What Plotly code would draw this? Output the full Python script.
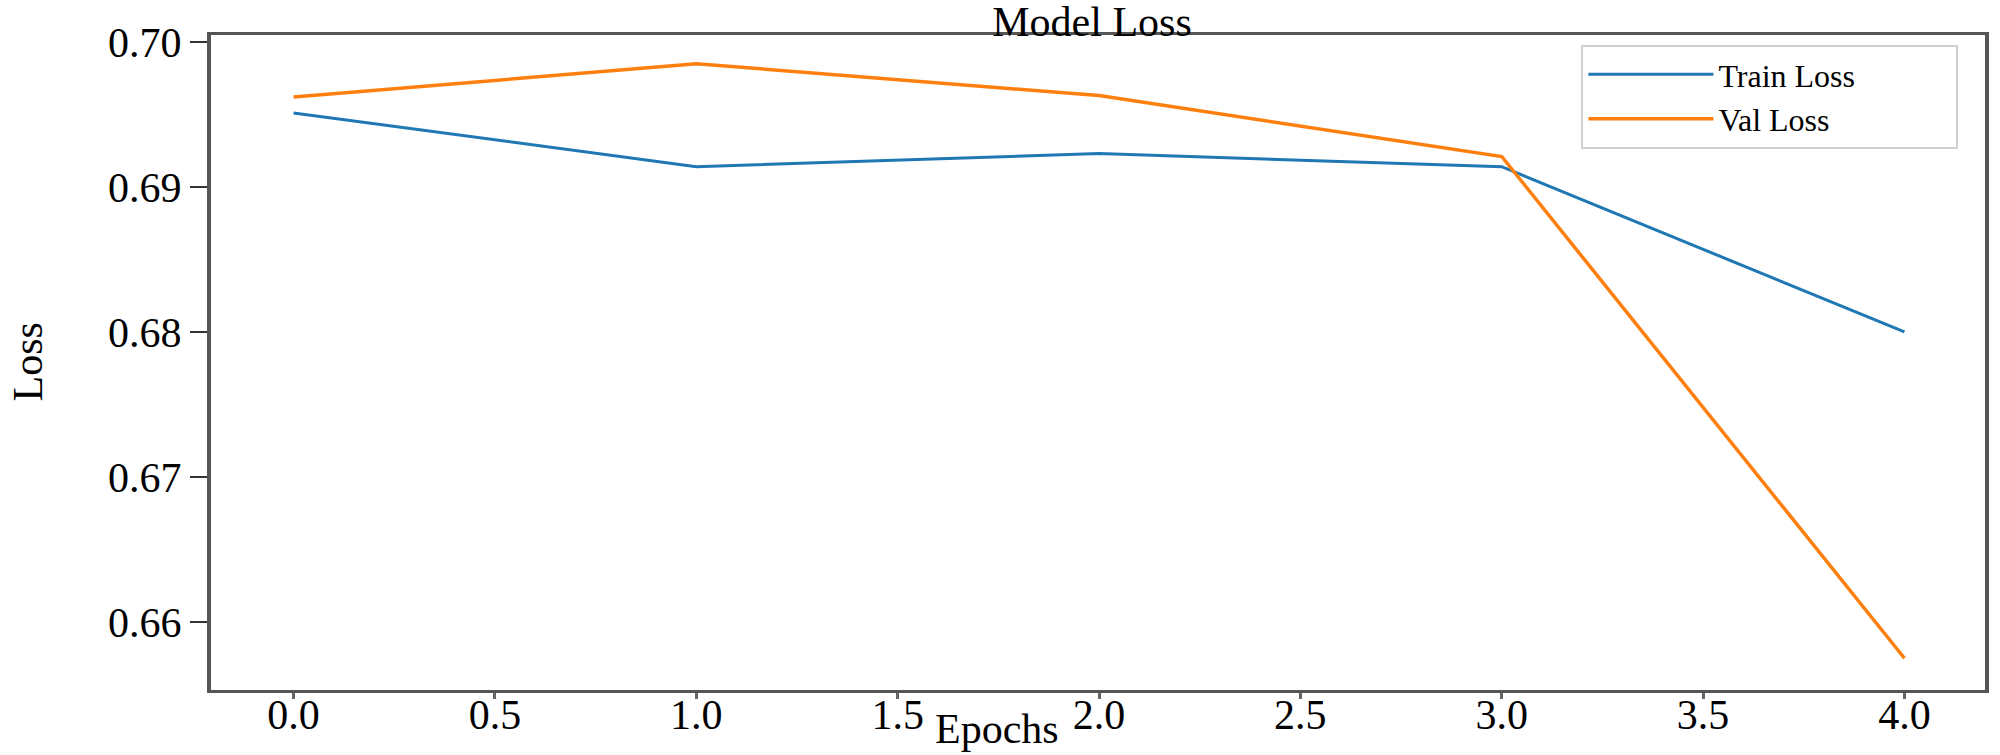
import plotly.graph_objects as go

epochs = [0, 1, 2, 3, 4]
train_loss = [0.6951, 0.6914, 0.6923, 0.6914, 0.6800]
val_loss = [0.6962, 0.6985, 0.6963, 0.6921, 0.6575]

x_ticks = [0.0, 0.5, 1.0, 1.5, 2.0, 2.5, 3.0, 3.5, 4.0]
y_ticks = [0.66, 0.67, 0.68, 0.69, 0.70]

FONT = "Liberation Serif"
FS = 42
PAD = "&nbsp;" * 12

fig = go.Figure()
fig.add_trace(go.Scatter(x=epochs, y=train_loss, mode="lines", name="Train Loss" + PAD,
                         line=dict(color="#1f77b4", width=3)))
fig.add_trace(go.Scatter(x=epochs, y=val_loss, mode="lines", name="Val Loss",
                         line=dict(color="#ff7f0e", width=3.5)))

fig.update_layout(
    width=2000, height=755,
    margin=dict(l=211, r=15, t=35, b=65),
    paper_bgcolor="white", plot_bgcolor="white",
    font=dict(family=FONT, size=FS, color="black"),
    title=dict(text="Model Loss", x=1092 / 2000, xanchor="center",
               y=1 - 36 / 755, yanchor="bottom", yref="container",
               font=dict(family=FONT, size=FS, color="black")),
    showlegend=True,
    legend=dict(x=0.985, xanchor="right", y=0.985, yanchor="top",
                bgcolor="white", bordercolor="#d0d0d0", borderwidth=2,
                font=dict(family=FONT, size=32, color="black"),
                itemwidth=125, tracegroupgap=0),
    xaxis=dict(range=[-0.205, 4.2], tickmode="array", tickvals=x_ticks,
               ticktext=[f"{v:.1f}" for v in x_ticks],
               showgrid=False, zeroline=False, automargin=False,
               showline=True, linecolor="#555555", linewidth=3, mirror=True,
               ticks="outside", ticklen=6, tickwidth=3, tickcolor="#666666",
               ticklabelstandoff=-20,
               tickfont=dict(family=FONT, size=FS, color="black")),
    yaxis=dict(range=[0.65531, 0.70048], tickmode="array", tickvals=y_ticks,
               ticktext=[f"{v:.2f}" for v in y_ticks],
               showgrid=False, zeroline=False, automargin=False,
               showline=True, linecolor="#555555", linewidth=4, mirror=True,
               ticks="outside", ticklen=17, tickwidth=2, tickcolor="#333333",
               tickfont=dict(family=FONT, size=FS, color="black")),
    annotations=[
        dict(text="Epochs", x=(997 - 211) / 1774, y=-(729 - 690) / 655,
             xref="paper", yref="paper", xanchor="center", yanchor="middle",
             showarrow=False, font=dict(family=FONT, size=FS, color="black")),
        dict(text="Loss", x=(27 - 211) / 1774, y=0.5, xref="paper", yref="paper",
             textangle=-90, xanchor="center", yanchor="middle",
             showarrow=False, font=dict(family=FONT, size=FS, color="black")),
    ],
)

fig.write_html("out.html")
